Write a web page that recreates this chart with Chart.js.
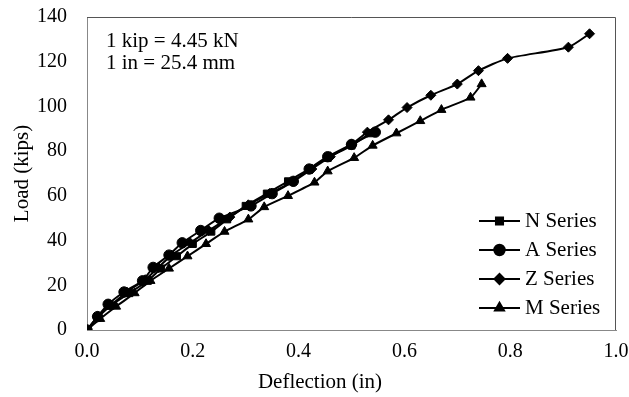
<!DOCTYPE html>
<html>
<head>
<meta charset="utf-8">
<script src="https://cdn.jsdelivr.net/npm/chart.js@4.4.0/dist/chart.umd.min.js"></script>
<style>
  html, body { margin: 0; padding: 0; background: #fff; }
  #wrap { width: 629px; height: 397px; }
</style>
</head>
<body>
<div id="wrap"><canvas id="load_Chart" width="629" height="397"></canvas></div>
<script>
// deflection (in) / load (kips)
const nX = [0, 0.02, 0.045, 0.08, 0.115, 0.14, 0.17, 0.20, 0.235, 0.265, 0.30, 0.34, 0.38, 0.42, 0.455, 0.50, 0.535];
const nY = [0, 5.5, 11, 16.5, 22, 27.5, 33, 38.5, 44, 49.5, 55.5, 61, 66.5, 72, 77, 82.5, 88];

const aX = [0, 0.02, 0.04, 0.07, 0.105, 0.125, 0.155, 0.18, 0.215, 0.25, 0.31, 0.35, 0.39, 0.42, 0.455, 0.50, 0.545];
const aY = [0, 6, 11.5, 17, 22, 28, 33.5, 39, 44.5, 50, 55.5, 61, 66.5, 72, 77.5, 83, 88.5];

const zX = [0, 0.02, 0.045, 0.075, 0.11, 0.135, 0.16, 0.195, 0.23, 0.27, 0.305, 0.345, 0.39, 0.425, 0.46, 0.50, 0.53, 0.57, 0.605, 0.65, 0.70, 0.74, 0.795, 0.91, 0.95];
const zY = [0, 6, 11, 17, 22.5, 28, 33.5, 39, 44.5, 50.5, 56, 61, 66.5, 72, 77.5, 83, 88.5, 94, 99.5, 105, 110, 116, 121.5, 126.5, 132.5];

const mX = [0, 0.025, 0.055, 0.09, 0.12, 0.155, 0.19, 0.225, 0.26, 0.305, 0.335, 0.38, 0.43, 0.455, 0.505, 0.54, 0.585, 0.63, 0.67, 0.725, 0.746];
const mY = [0, 5, 10.5, 16.5, 22, 27.5, 33, 38.5, 44, 49.5, 55, 60, 66, 71, 77, 82.5, 88, 93.5, 98.5, 104, 110];

const seriesNames = ['N Series', 'A Series', 'Z Series', 'M Series'];
const markers = ['rect', 'circle', 'rectRot', 'triangle'];
const noteLines = ['1 kip = 4.45 kN', '1 in = 25.4 mm'];
const xTitle = 'Deflection (in)';

const FONT = 'Liberation Serif, Times New Roman, serif';

function pts(xs, ys) {
  return xs.map((x, i) => ({ x: x, y: ys[i] }));
}

const sets = [pts(nX, nY), pts(aX, aY), pts(zX, zY), pts(mX, mY)];
const radii = { rect: 5, circle: 5.2, rectRot: 5, triangle: 5.2 };

const data = {
  datasets: sets.map((d, i) => ({
    label: seriesNames[i],
    data: d,
    showLine: true,
    borderColor: '#000',
    backgroundColor: '#000',
    borderWidth: 2,
    tension: 0.2,
    pointStyle: markers[i],
    pointRadius: radii[markers[i]],
    pointBorderWidth: 1
  }))
};

// no extra room for edge labels, layout padding decides the plot box
function noEdgePad(s) {
  s.paddingTop = 0;
  s.paddingBottom = 0;
  s.paddingLeft = 0;
  s.paddingRight = 0;
}

// box on top/right, x title, note text and legend inside the plot
const extras = {
  id: 'extras',
  afterDraw(chart) {
    const ctx = chart.ctx;
    const a = chart.chartArea;
    ctx.save();
    ctx.strokeStyle = '#555';
    ctx.lineWidth = 1;
    ctx.beginPath();
    ctx.moveTo(Math.round(a.left), Math.round(a.top) + 0.5);
    ctx.lineTo(Math.round(a.right) - 0.5, Math.round(a.top) + 0.5);
    ctx.lineTo(Math.round(a.right) - 0.5, Math.round(a.bottom));
    ctx.stroke();

    ctx.fillStyle = '#000';
    ctx.font = '21px ' + FONT;
    ctx.textBaseline = 'middle';

    // x axis title sits a bit left of the plot centre in the original
    ctx.textAlign = 'center';
    ctx.fillText(xTitle, 320, chart.height - 15);

    ctx.textAlign = 'left';
    noteLines.forEach((t, i) => ctx.fillText(t, a.left + 19, a.top + 24 + i * 22));

    // legend
    const lx = a.right - 137, ly = a.top + 204;
    chart.data.datasets.forEach((ds, i) => {
      const y = ly + i * 29;
      ctx.strokeStyle = '#000';
      ctx.lineWidth = 2;
      ctx.beginPath();
      ctx.moveTo(lx, y);
      ctx.lineTo(lx + 41, y);
      ctx.stroke();
      Chart.helpers.drawPoint(ctx, {
        pointStyle: ds.pointStyle, radius: ds.pointRadius, rotation: 0, borderWidth: 1
      }, lx + 20.5, y);
      ctx.fill();
      ctx.fillStyle = '#000';
      ctx.fillText(ds.label, lx + 46, y);
    });
    ctx.restore();
  }
};

const config = {
  type: 'scatter',
  data: data,
  options: {
    responsive: false,
    animation: false,
    devicePixelRatio: 1,
    layout: { padding: { top: 17, right: 13, left: 0, bottom: 0 } },
    plugins: { legend: { display: false }, tooltip: { enabled: false } },
    scales: {
      x: {
        type: 'linear',
        min: 0,
        max: 1,
        afterFit: (s) => { s.height = 67; noEdgePad(s); },
        grid: { display: false, drawTicks: false },
        border: { color: '#888', width: 1 },
        ticks: {
          stepSize: 0.2,
          padding: 10,
          color: '#000',
          font: { family: FONT, size: 20 },
          callback: (v) => v.toFixed(1)
        },
        title: { display: false }
      },
      y: {
        min: 0,
        max: 140,
        afterFit: (s) => { s.width = 87; noEdgePad(s); },
        grid: { display: false, drawTicks: false },
        border: { color: '#888', width: 1 },
        ticks: {
          stepSize: 20,
          padding: 20,
          color: '#000',
          font: { family: FONT, size: 20 }
        },
        title: {
          display: true,
          text: 'Load (kips)',
          color: '#000',
          font: { family: FONT, size: 21 },
          padding: { top: 10, bottom: 0 }
        }
      }
    }
  },
  plugins: [extras]
};

const myChart = new Chart(document.getElementById('load_Chart'), config);
</script>
</body>
</html>
